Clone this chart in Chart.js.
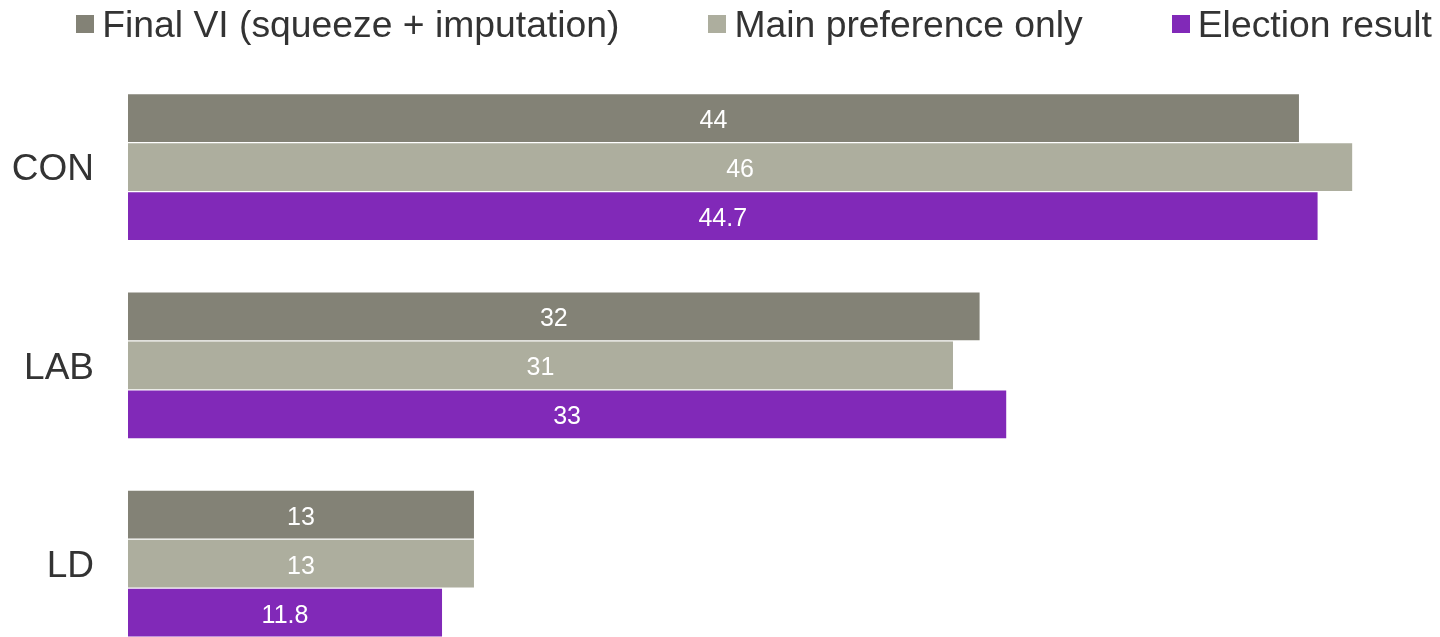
<!DOCTYPE html>
<html>
<head>
<meta charset="utf-8">
<script src="https://cdn.jsdelivr.net/npm/chart.js@4"></script>
<style>
  html, body { margin: 0; padding: 0; background: #fff; overflow: hidden; }
  #wrap { position: relative; width: 1440px; height: 719px; }
  #legend {
    position: absolute; top: 0; left: 0; right: 8px; height: 48px;
    display: flex; justify-content: flex-end; align-items: center;
    font-family: 'Liberation Sans', Arial, sans-serif; font-size: 37.3px; color: #333;
  }
  .item { display: flex; align-items: center; margin-left: 89px; white-space: nowrap; }
  .item:first-child { margin-left: 0; }
  .box { width: 18px; height: 18px; margin-right: 8px; }
  canvas { display: block; }
</style>
</head>
<body>
<div id="wrap">
  <div id="legend"></div>
  <canvas id="barChart" width="1440" height="719"></canvas>
</div>
<script>
let categories = ['CON', 'LAB', 'LD'];
let seriesNames = ['Final VI (squeeze + imputation)', 'Main preference only', 'Election result'];
let finalVI = [44, 32, 13];
let mainPref = [46, 31, 13];
let election = [44.7, 33, 11.8];
let colors = ['#838276', '#adae9e', '#8129b8'];

let ctx = document.getElementById('barChart').getContext('2d');

// build the legend by hand so the spacing matches
let legend = document.getElementById('legend');
seriesNames.forEach(function (name, i) {
    let item = document.createElement('div');
    item.className = 'item';
    item.innerHTML = '<span class="box" style="background:' + colors[i] + '"></span>' + name;
    legend.appendChild(item);
});

// white value labels in the middle of each bar
const barLabels = {
    id: 'barLabels',
    afterDatasetsDraw(chart) {
        const c = chart.ctx;
        c.save();
        c.fillStyle = '#ffffff';
        c.font = '25px "Liberation Sans", Arial, sans-serif';
        c.textAlign = 'center';
        c.textBaseline = 'middle';
        chart.data.datasets.forEach(function (ds, i) {
            chart.getDatasetMeta(i).data.forEach(function (bar, j) {
                c.fillText(String(ds.data[j]), (bar.x + bar.base) / 2, bar.y + 3);
            });
        });
        c.restore();
    }
};

let data = {
    labels: categories,
    datasets: [
        { label: seriesNames[0], data: finalVI, backgroundColor: colors[0] },
        { label: seriesNames[1], data: mainPref, backgroundColor: colors[1] },
        { label: seriesNames[2], data: election, backgroundColor: colors[2] }
    ]
};

// the y tick labels add ~56px of bottom padding, so the canvas is taller than the
// window and the last group gets cut off like in the original
let options = {
    indexAxis: 'y',
    responsive: false,
    animation: { duration: 0 },
    devicePixelRatio: 1,
    layout: { padding: { top: 68, right: 0, bottom: 0, left: 0 } },
    datasets: {
        bar: { categoryPercentage: 0.742, barPercentage: 0.975 }
    },
    plugins: {
        legend: { display: false },
        tooltip: { enabled: false }
    },
    scales: {
        x: {
            display: false,
            min: 0,
            max: 49.3
        },
        y: {
            grid: { display: false, drawTicks: false },
            border: { display: false },
            ticks: {
                color: '#333',
                padding: 34,
                labelOffset: 3,
                font: { family: '"Liberation Sans", Arial, sans-serif', size: 37 }
            },
            afterFit: function (scale) { scale.width = 128; }
        }
    }
};

let chart = new Chart(ctx, {
    type: 'bar',
    data: data,
    options: options,
    plugins: [barLabels]
});
</script>
</body>
</html>
